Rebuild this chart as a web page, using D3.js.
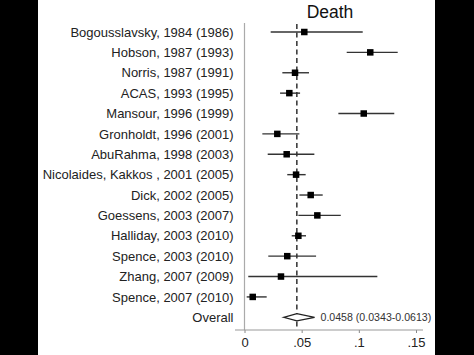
<!DOCTYPE html>
<html><head><meta charset="utf-8">
<script src="https://cdn.jsdelivr.net/npm/d3@7"></script>
<style>html,body{margin:0;padding:0;background:#000;}svg{display:block;}</style>
</head><body>
<svg id="c" width="474" height="355"></svg>
<script>
const studies = ["Bogousslavsky, 1984 (1986)","Hobson, 1987 (1993)","Norris, 1987 (1991)","ACAS, 1993 (1995)","Mansour, 1996 (1999)","Gronholdt, 1996 (2001)","AbuRahma, 1998 (2003)","Nicolaides, Kakkos , 2001 (2005)","Dick, 2002 (2005)","Goessens, 2003 (2007)","Halliday, 2003 (2010)","Spence, 2003 (2010)","Zhang, 2007 (2009)","Spence, 2007 (2010)"];
const estimate = [0.0523,0.110,0.0442,0.0392,0.1043,0.0287,0.0369,0.0451,0.0579,0.0637,0.0471,0.0374,0.0319,0.0072];
const lower    = [0.0229,0.0894,0.0331,0.0311,0.0821,0.0156,0.0203,0.0374,0.0480,0.0471,0.0413,0.0208,0.0033,0.0019];
const upper    = [0.1034,0.1340,0.0564,0.0486,0.1310,0.0480,0.0611,0.0535,0.0684,0.0842,0.0538,0.0626,0.1162,0.0194];
const overall = {label:"Overall", est:0.0458, lo:0.0343, hi:0.0613};
const overallText = ["0.0458 (0.0343-0.0613)"];
const tickValues = [0, 0.05, 0.1, 0.15];
const tickLabels = ["0", ".05", ".1", ".15"];
const title = "Death";

const svg = d3.select("#c");
svg.append("rect").attr("x",38).attr("y",0).attr("width",397).attr("height",355).attr("fill","#fff");

const x = d3.scaleLinear().domain([0,0.15]).range([244.5,416]);
const rows = studies.concat([overall.label]);
const y = d3.scalePoint().domain(rows).range([32,317.3]);
const font = "Liberation Sans, Arial, sans-serif";

// title
svg.append("text").attr("x",330).attr("y",17.5).attr("text-anchor","middle")
  .attr("font-family",font).attr("font-size",17.5).attr("fill","#111").text(title);

// vertical axis line
svg.append("line").attr("x1",244.5).attr("x2",244.5).attr("y1",23).attr("y2",330)
  .attr("stroke","#aaa").attr("stroke-width",1.2);

// bottom axis
const axisG = svg.append("g").attr("transform","translate(0,330)");
const axis = d3.axisBottom(x).tickValues(tickValues).tickSize(3).tickPadding(5)
  .tickFormat((d,i)=>tickLabels[i]);
axisG.call(axis);
axisG.select(".domain").remove();
axisG.append("line").attr("x1",235).attr("x2",423).attr("y1",0).attr("y2",0)
  .attr("stroke","#999").attr("stroke-width",1.2);
axisG.selectAll(".tick line").attr("stroke","#888");
axisG.selectAll(".tick text").attr("font-family",font).attr("font-size",13).attr("fill","#222");

// labels
svg.append("g").selectAll("text").data(rows).join("text")
  .attr("x",233.5).attr("y",d=>y(d)).attr("dy","0.36em").attr("text-anchor","end")
  .attr("font-family",font).attr("font-size",13).attr("fill","#222").text(d=>d);

// dashed overall line
svg.append("line").attr("x1",x(overall.est)).attr("x2",x(overall.est)).attr("y1",24).attr("y2",330)
  .attr("stroke","#111").attr("stroke-width",1.3).attr("stroke-dasharray","5,3.5");

// CI lines
const data = studies.map((s,i)=>({s, est:estimate[i], lo:lower[i], hi:upper[i]}));
svg.append("g").selectAll("line").data(data).join("line")
  .attr("x1",d=>x(d.lo)).attr("x2",d=>x(d.hi)).attr("y1",d=>y(d.s)).attr("y2",d=>y(d.s))
  .attr("stroke","#333").attr("stroke-width",1.4);
// squares
const sq = 6.5;
svg.append("g").selectAll("rect").data(data).join("rect")
  .attr("x",d=>x(d.est)-sq/2).attr("y",d=>y(d.s)-sq/2).attr("width",sq).attr("height",sq)
  .attr("fill","#000");

// diamond
const oy = y(overall.label), h = 3.6;
svg.append("path")
  .attr("d",`M${x(overall.lo)},${oy} L${x(overall.est)},${oy-h} L${x(overall.hi)},${oy} L${x(overall.est)},${oy+h} Z`)
  .attr("fill","#fff").attr("stroke","#222").attr("stroke-width",1.3);
svg.append("text").attr("x",320.5).attr("y",oy).attr("dy","0.36em")
  .attr("font-family",font).attr("font-size",10.6).attr("fill","#333").text(overallText[0]);
</script>
</body></html>
